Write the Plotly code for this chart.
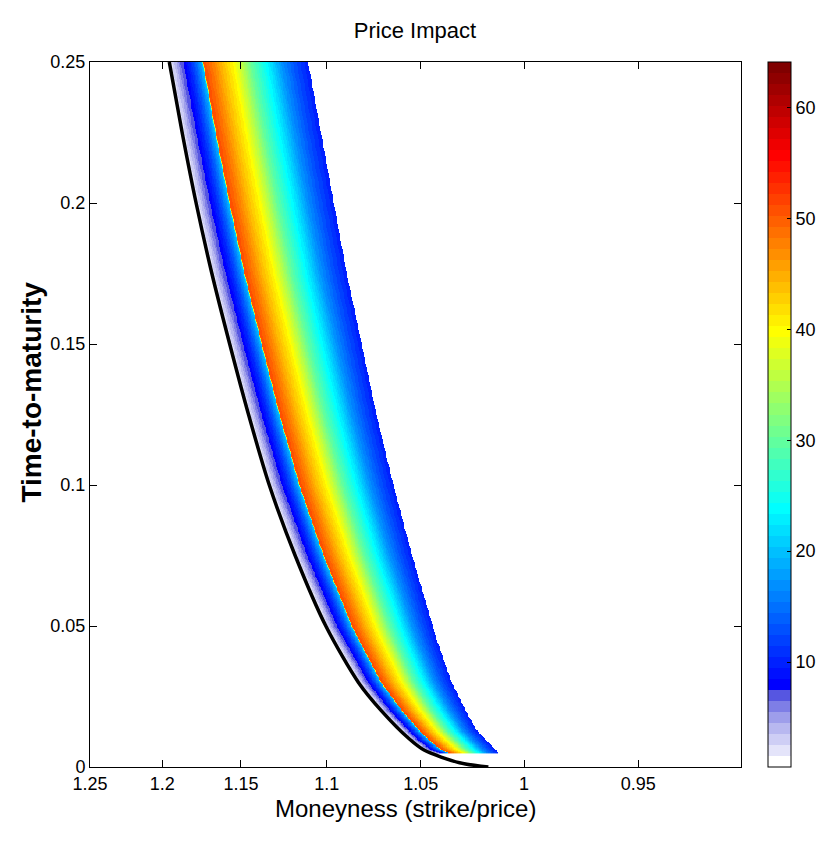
import numpy as np
import plotly.graph_objects as go

# exercise boundary (black line): time-to-maturity and moneyness
boundary_t = [0.0, 0.0015, 0.006, 0.01, 0.02, 0.03, 0.05, 0.075, 0.1, 0.125,
              0.15, 0.175, 0.2, 0.225, 0.25]
boundary_k = [1.0167, 1.0306, 1.0483, 1.0559, 1.0704, 1.0826, 1.1005, 1.1179, 1.1330, 1.1454,
              1.1569, 1.1680, 1.1780, 1.1870, 1.1954]

# right-hand (blue) edge of the coloured region
edge_t = [0.005, 0.0131, 0.02, 0.03, 0.045, 0.075, 0.1, 0.125, 0.15, 0.175, 0.2, 0.225, 0.25]
edge_k = [1.0120, 1.0224, 1.0277, 1.0345, 1.0419, 1.0544, 1.0641, 1.0730, 1.0809, 1.0890,
          1.0961, 1.1033, 1.1105]

# price impact across the band: 0 = at the boundary, 1 = at the right edge
band_frac = [0.00, 0.02, 0.05, 0.08, 0.11, 0.15, 0.19, 0.225, 0.238, 0.245, 0.27,
             0.31, 0.38, 0.46, 0.53, 0.59, 0.66, 0.73, 0.81, 0.90, 1.00]
band_value = [1.6, 2.6, 4.5, 6.5, 7.9, 10.5, 14.0, 18.0, 20.0, 51.0, 50.0,
              48.0, 44.0, 40.0, 35.0, 30.0, 26.0, 22.0, 17.0, 13.0, 9.5]

t_min = 0.005
z_lo, z_hi = 0.54, 64.1

x_ticks = [1.25, 1.2, 1.15, 1.1, 1.05, 1, 0.95]
y_ticks = [0, 0.05, 0.1, 0.15, 0.2, 0.25]
cbar_ticks = [10, 20, 30, 40, 50, 60]

# light lavender steps that replace the dark end of jet
lavender = [(255, 255, 255), (228, 228, 250), (206, 206, 245), (184, 184, 240),
            (158, 158, 235), (126, 126, 230), (86, 86, 225)]


def jet64():
    # same construction as matlab's jet(64)
    u = np.concatenate([np.arange(1, 17) / 16, np.ones(15), np.arange(16, 0, -1) / 16])
    cmap = np.zeros((64, 3))
    g = np.arange(9, 56)
    for ch, pos in ((0, g + 16), (1, g), (2, g - 16)):
        ok = (pos >= 1) & (pos <= 64)
        cmap[pos[ok] - 1, ch] = u[ok]
    return [tuple(int(round(255 * c)) for c in row) for row in cmap]


colors = jet64()
colors[:len(lavender)] = lavender
colorscale = []
for i, c in enumerate(colors):
    rgb = 'rgb(%d,%d,%d)' % c
    colorscale.append([i / 64, rgb])
    colorscale.append([(i + 1) / 64, rgb])

# the x axis is linear in price/strike, labelled in strike/price
inv_bk = 1 / np.array(boundary_k)
inv_ek = 1 / np.array(edge_k)
t_grid = np.linspace(t_min, 0.25, 600)
x_grid = np.linspace(0.83, 0.995, 460)
z = np.full((len(t_grid), len(x_grid)), np.nan)
for j, t in enumerate(t_grid):
    xb = np.interp(t, boundary_t, inv_bk)
    xr = np.interp(t, edge_t, inv_ek)
    f = (x_grid - xb) / (xr - xb)
    inside = (f >= 0) & (f <= 1)
    z[j, inside] = np.interp(f[inside], band_frac, band_value)

font = 'Liberation Sans, Arial, sans-serif'

# page body adds an 8px margin, so the figure is a bit smaller than the window
W, H = 824, 830
left, top, right, bottom = 82, 54, 739, 759   # plot box inside the figure
plot_w, plot_h = right - left, bottom - top


def px_x(x):   # window pixel -> paper x
    return (x - 8 - left) / plot_w


def px_y(y):   # window pixel -> paper y
    return (bottom - (y - 8)) / plot_h


fig = go.Figure()
fig.add_trace(go.Heatmap(
    x=x_grid, y=t_grid, z=z,
    zmin=z_lo, zmax=z_hi,
    colorscale=colorscale,
    hoverongaps=False,
    colorbar=dict(
        x=px_x(774), xanchor='left',
        y=0.5, yanchor='middle', ypad=0, xpad=0,
        len=1, lenmode='fraction',
        thickness=23, thicknessmode='pixels',
        outlinewidth=1, outlinecolor='black',
        tickvals=cbar_ticks, ticks='inside', ticklen=4, tickcolor='black',
        tickfont=dict(family=font, size=18, color='black'),
    ),
))
fig.add_trace(go.Scatter(
    x=inv_bk, y=boundary_t, mode='lines',
    line=dict(color='black', width=3.5, shape='spline', smoothing=0.8),
    showlegend=False, hoverinfo='skip',
))

axis_style = dict(
    showline=True, linecolor='black', linewidth=1, mirror='allticks',
    ticks='inside', ticklen=7, tickcolor='black',
    showgrid=False, zeroline=False,
    tickfont=dict(family=font, size=18, color='black'),
)

fig.update_layout(
    width=W, height=H,
    margin=dict(l=left, r=W - right, t=top, b=H - bottom),
    paper_bgcolor='white', plot_bgcolor='white',
    title=dict(text='Price Impact', x=px_x(418), xanchor='center', xref='paper',
               y=1 - 22 / H, yanchor='middle', yref='container',
               font=dict(family=font, size=22, color='black')),
    xaxis=dict(range=[0.8, 1.1],
               tickvals=[1 / k for k in x_ticks],
               ticktext=['%g' % k for k in x_ticks],
               **axis_style),
    yaxis=dict(range=[0, 0.25],
               tickvals=y_ticks,
               ticktext=['%g' % v for v in y_ticks],
               **axis_style),
    annotations=[
        dict(text='Moneyness (strike/price)',
             x=px_x(408), xref='paper', xanchor='center',
             y=px_y(808), yref='paper', yanchor='middle',
             showarrow=False,
             font=dict(family=font, size=24, color='black')),
        dict(text='<b>Time-to-maturity</b>', textangle=-90,
             x=px_x(30), xref='paper', xanchor='center',
             y=px_y(392), yref='paper', yanchor='middle',
             showarrow=False,
             font=dict(family=font, size=28, color='black')),
    ],
)

fig.write_html('out.html')
